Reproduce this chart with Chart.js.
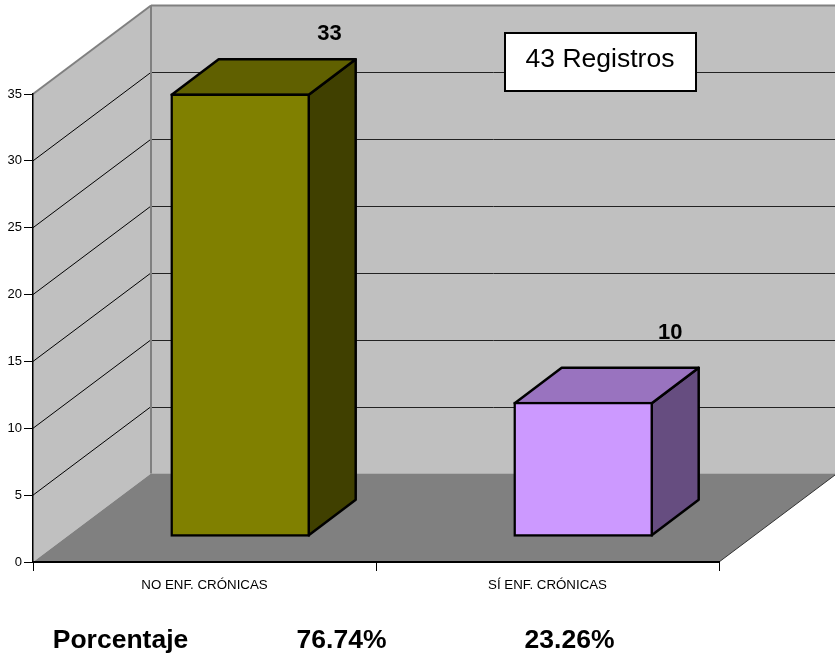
<!DOCTYPE html>
<html>
<head>
<meta charset="utf-8">
<style>
  body { margin: 0; background: #fff; }
  canvas { display: block; }
</style>
<script src="https://cdn.jsdelivr.net/npm/chart.js@4"></script>
</head>
<body>
<canvas id="chart" width="835" height="655"></canvas>
<script>
const categories = ["NO ENF. CRÓNICAS", "SÍ ENF. CRÓNICAS"];
const counts = [33, 10];
const percentages = ["76.74%", "23.26%"];
const yTicksMax = 35;
const yTickStep = 5;
const rowTitle = "Porcentaje";
const noteText = "43 Registros";

const FONT = '"Liberation Sans", Arial, sans-serif';
const frontColors = ["#808000", "#CC99FF"];
const topColors = ["#606000", "#9973BF"];
const sideColors = ["#404000", "#664D80"];

// depth of the fake 3d box and of the bars inside it
const WALL_DX = 118, WALL_DY = 88.5;
const BAR_DX = 47, BAR_DY = 35.5;
const BAR_SHIFT_X = 35.7, BAR_SHIFT_Y = 25.7;
const labelOffsets = [[89.3, -60], [87, -69.5]];

function poly(ctx, pts, fill, stroke, lw) {
    ctx.beginPath();
    pts.forEach((p, i) => i ? ctx.lineTo(p[0], p[1]) : ctx.moveTo(p[0], p[1]));
    ctx.closePath();
    if (fill) { ctx.fillStyle = fill; ctx.fill(); }
    if (stroke) { ctx.strokeStyle = stroke; ctx.lineWidth = lw; ctx.lineJoin = "round"; ctx.stroke(); }
}

function seg(ctx, x1, y1, x2, y2, color, lw) {
    ctx.beginPath();
    ctx.moveTo(x1, y1);
    ctx.lineTo(x2, y2);
    ctx.strokeStyle = color;
    ctx.lineWidth = lw;
    ctx.stroke();
}

const box3d = {
    id: "box3d",
    beforeDraw(chart) {
        const ctx = chart.ctx, y = chart.scales.y, a = chart.chartArea;
        const left = a.left, right = a.right, top = y.getPixelForValue(yTicksMax), bottom = y.getPixelForValue(0);
        const backX = left + WALL_DX, backR = right + WALL_DX, backTop = top - WALL_DY, backBottom = bottom - WALL_DY;
        ctx.save();
        poly(ctx, [[left, top], [backX, backTop], [backX, backBottom], [left, bottom]], "#C0C0C0");
        poly(ctx, [[backX, backTop], [backR, backTop], [backR, backBottom], [backX, backBottom]], "#C0C0C0");
        poly(ctx, [[left, bottom], [backX, backBottom], [backR, backBottom], [right, bottom]], "#808080");
        seg(ctx, right, bottom, backR, backBottom, "#333", 1);
        y.ticks.forEach(t => {
            if (t.value === 0 || t.value === yTicksMax) return;
            const py = y.getPixelForValue(t.value);
            seg(ctx, left, py, backX, py - WALL_DY, "#000", 1);
            seg(ctx, backX, Math.round(py - WALL_DY) + 0.5, backR, Math.round(py - WALL_DY) + 0.5, "#222", 1);
        });
        seg(ctx, left, top, backX, backTop, "#808080", 2);
        seg(ctx, backX, backTop, backR, backTop, "#808080", 2);
        seg(ctx, backX, backTop, backX, backBottom, "#808080", 2);
        ctx.restore();
    },
    beforeDatasetsDraw(chart) {
        const ctx = chart.ctx;
        ctx.save();
        ctx.translate(BAR_SHIFT_X, -BAR_SHIFT_Y);
        chart.getDatasetMeta(0).data.forEach((bar, i) => {
            const l = bar.x - bar.width / 2 + 1, r = bar.x + bar.width / 2 - 1, t = bar.y + 1, b = bar.base - 1;
            poly(ctx, [[r, t], [r + BAR_DX, t - BAR_DY], [r + BAR_DX, b - BAR_DY], [r, b]], sideColors[i], "#000", 2.5);
            poly(ctx, [[l, t], [l + BAR_DX, t - BAR_DY], [r + BAR_DX, t - BAR_DY], [r, t]], topColors[i], "#000", 2.5);
        });
        // front faces are drawn by the chart itself, still shifted into the box
    },
    afterDatasetsDraw(chart) {
        chart.ctx.restore();
    },
    afterDraw(chart) {
        const ctx = chart.ctx;
        ctx.save();
        ctx.fillStyle = "#000";
        ctx.textBaseline = "middle";
        ctx.textAlign = "center";

        ctx.font = "bold 22px " + FONT;
        chart.getDatasetMeta(0).data.forEach((bar, i) => {
            ctx.fillText(String(counts[i]), bar.x + BAR_SHIFT_X + labelOffsets[i][0], bar.y - BAR_SHIFT_Y + labelOffsets[i][1]);
        });

        // note box
        ctx.fillStyle = "#fff";
        ctx.fillRect(505, 33, 191, 58);
        ctx.strokeStyle = "#000";
        ctx.lineWidth = 2;
        ctx.strokeRect(505, 33, 191, 58);
        ctx.fillStyle = "#000";
        ctx.font = "26.5px " + FONT;
        ctx.fillText(noteText, 600, 60);

        // percent row under the axis
        ctx.font = "bold 26.5px " + FONT;
        ctx.fillText(rowTitle, 120.5, 641);
        ctx.fillText(percentages[0], 341.5, 641);
        ctx.fillText(percentages[1], 569.5, 641);
        ctx.restore();
    }
};

new Chart(document.getElementById("chart"), {
    type: "bar",
    data: {
        labels: categories,
        datasets: [{
            data: counts,
            yAxisID: "yBar",
            backgroundColor: frontColors,
            borderColor: "#000",
            borderWidth: 2.5,
            borderSkipped: false,
            barThickness: 139,
            clip: false
        }]
    },
    options: {
        responsive: false,
        animation: false,
        layout: { padding: { left: 0, top: 94, right: 116, bottom: 0 } },
        plugins: { legend: { display: false }, tooltip: { enabled: false }, title: { display: false } },
        scales: {
            x: {
                afterFit: s => { s.height = 93; },
                border: { color: "#000", width: 2 },
                grid: { offset: true, drawOnChartArea: false, tickLength: 9, tickColor: "#000" },
                ticks: { color: "#000", font: { family: FONT, size: 13.3 }, padding: 6, maxRotation: 0 }
            },
            y: {
                min: 0,
                max: yTicksMax,
                afterFit: s => { s.width = 33; },
                border: { color: "#000", width: 1.5 },
                grid: { drawOnChartArea: false, tickLength: 9, tickColor: "#000" },
                ticks: { stepSize: yTickStep, color: "#000", font: { family: FONT, size: 13 }, padding: 2 }
            },
            // bars sit deeper in the box so they read a little taller than the front axis
            yBar: { display: false, min: 0, max: 34.9 }
        }
    },
    plugins: [box3d]
});
</script>
</body>
</html>
